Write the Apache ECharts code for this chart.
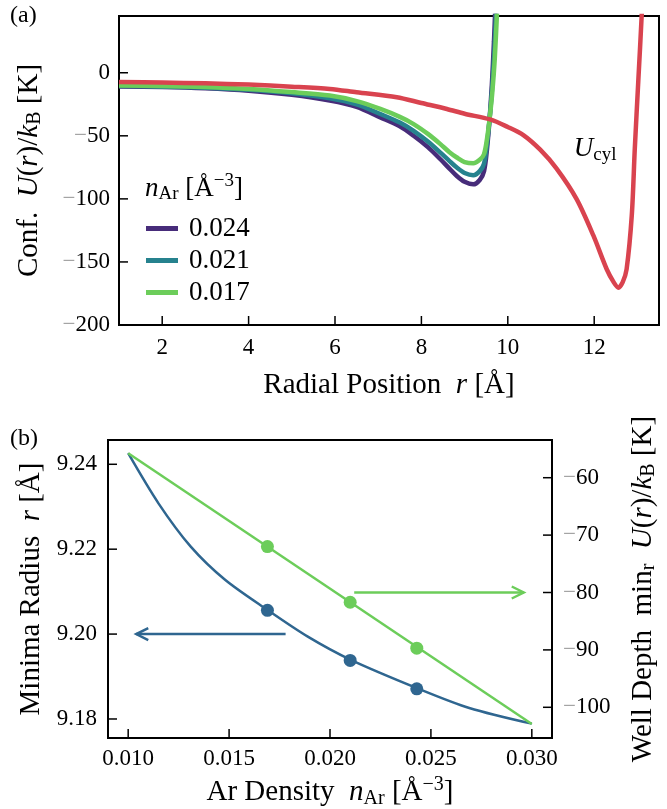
<!DOCTYPE html>
<html><head><meta charset="utf-8">
<script src="https://cdn.jsdelivr.net/npm/echarts@6/dist/echarts.min.js"></script>
<style>html,body{margin:0;padding:0;background:#fff}#c{width:667px;height:809px}</style>
</head><body><div id="c"></div>
<script>
const FONT = 'Liberation Serif';

// ---------- Panel (a): confinement potential ----------
const rTicksA = [2, 4, 6, 8, 10, 12];
const uTicksA = [-200, -150, -100, -50, 0];
const densityLabels = ['0.024', '0.021', '0.017'];

const rWell = [1, 2, 3, 4, 5, 5.88, 6.5, 7.05, 7.5, 7.82, 8.15, 8.44, 8.65, 8.82, 9.0, 9.2, 9.35, 9.45, 9.52, 9.58, 9.63, 9.68, 9.72];
const uPurple = [-10.9, -11.3, -12.3, -14.2, -17.5, -22, -27, -35.4, -42.5, -50, -59, -68.6, -76, -81.9, -86.5, -88.5, -85, -78, -60, -36, -10, 25, 60];
const rTeal = [1, 2, 3, 4, 5, 5.88, 6.5, 7.05, 7.5, 7.82, 8.15, 8.44, 8.65, 8.82, 9.0, 9.2, 9.35, 9.45, 9.52, 9.58, 9.635, 9.69, 9.74];
const uTeal = [-10.5, -11, -11.8, -13.5, -16.3, -20.2, -25, -32.7, -39.5, -46, -54.5, -63.3, -70, -75.2, -79.5, -81.3, -78, -72, -56, -36, -13, 18, 57];
const rGreen = [1, 2, 3, 4, 5, 5.88, 6.5, 7.05, 7.5, 7.82, 8.15, 8.44, 8.65, 8.82, 9.0, 9.2, 9.35, 9.45, 9.52, 9.58, 9.64, 9.70, 9.76];
const uGreen = [-10.1, -10.5, -11.3, -12.8, -15.3, -18.1, -22.5, -28.7, -35, -40.7, -48.5, -56.6, -63, -67.2, -70.8, -71.8, -69, -64.5, -52, -36, -16, 12, 55];
const rCyl = [1, 2, 3, 4, 5, 5.88, 6.5, 7.43, 8.0, 8.59, 9.0, 9.59, 10.0, 10.36, 10.75, 11.13, 11.59, 11.98, 12.29, 12.45, 12.56, 12.66, 12.75, 12.87, 12.94, 13.02, 13.1, 13.15];
const uCyl = [-7.4, -7.8, -8.4, -9.4, -11, -12.8, -15.5, -19.4, -24, -28.7, -32.5, -37, -43, -49.4, -61, -76, -100, -129, -155.8, -166, -170.4, -166, -155.8, -113, -60, -7, 46, 90];

// ---------- Panel (b): minima radius & well depth ----------
const densTicks = [0.010, 0.015, 0.020, 0.025, 0.030];
const radiusTicks = [9.18, 9.20, 9.22, 9.24];
const depthTicks = [-100, -90, -80, -70, -60];

const fitRadiusX = [0.010, 0.0115, 0.0131, 0.0148, 0.0169, 0.0189, 0.0210, 0.0244, 0.0269, 0.030];
const fitRadiusY = [9.2426, 9.2308, 9.2206, 9.2128, 9.2057, 9.1994, 9.1940, 9.1871, 9.1826, 9.1789];
const fitDepthX = [0.010, 0.030];
const fitDepthY = [-55.75, -102.9];
const ptsDensity = [0.0169, 0.0210, 0.0243];
const ptsRadius = [9.2056, 9.1938, 9.1871];
const ptsDepth = [-72.0, -81.7, -89.7];
const arrowRadius = [0.0178, 9.200, 0.0104, 9.200];
const arrowDepth = [0.0212, -80, 0.0296, -80];

// axis extents
const A_X = [1, 13.5], A_Y = [-200, 45];
const B_X = [0.009, 0.031], B_YL = [9.17552, 9.24572], B_YR = [-105.35, -53.43];
const TICK_FRAC_A_X = 9 / 309, TICK_FRAC_A_Y = 9 / 540, TICK_FRAC_B_X = 9 / 298, TICK_FRAC_B_Y = 9 / 444;

const C_PURPLE = '#472c7a', C_TEAL = '#26828e', C_GREEN = '#6ccd5a', C_RED = '#d9434f', C_BLUE = '#2f6690';

function zip(a, b) { return a.map((v, i) => [v, b[i]]); }
function rich(fs) {
  return {
    t: { fontFamily: FONT, fontSize: fs, color: '#000' },
    i: { fontFamily: FONT, fontSize: fs, fontStyle: 'italic', color: '#000' },
    sub: { fontFamily: FONT, fontSize: Math.round(fs * 0.7), padding: [Math.round(fs * 0.4), 0, 0, 0], color: '#000' },
    sup: { fontFamily: FONT, fontSize: Math.round(fs * 0.7), padding: [0, 0, Math.round(fs * 0.5), 0], color: '#000' },
    g: { fontFamily: FONT, fontSize: fs, color: '#a0a0a0' }
  };
}
const TICK_FS = 23, NAME_FS = 29, LEG_FS = 27;
function tickFmt(dec) {
  return v => {
    const s = Math.abs(v).toFixed(dec);
    return v < 0 ? '{g|−}{t|' + s + '}' : '{t|' + s + '}';
  };
}
function axisCommon(ticks, dec, margin) {
  return {
    axisLine: { show: false, onZero: false },
    splitLine: { show: false },
    axisTick: { show: false },
    axisLabel: { show: true, customValues: ticks, margin: margin, formatter: tickFmt(dec), rich: rich(TICK_FS) },
    nameLocation: 'middle',
    nameTextStyle: { fontFamily: FONT, fontSize: NAME_FS, color: '#000', rich: rich(NAME_FS) }
  };
}
function lineSeries(name, xa, ya, data, color, width, z, smooth) {
  return { name, type: 'line', xAxisIndex: xa, yAxisIndex: ya, data, showSymbol: false, symbol: 'none',
    smooth: smooth, lineStyle: { color, width }, itemStyle: { color }, z, silent: true, animation: false };
}
// segments [x0, y0, x1, y1] in data units, optional open arrow head at the end
function segSeries(xa, ya, items, color, width, head) {
  return {
    type: 'custom', xAxisIndex: xa, yAxisIndex: ya, data: items, encode: { x: [0, 2], y: [1, 3] },
    itemStyle: { color }, silent: true, animation: false, z: 5,
    renderItem: (params, api) => {
      const p0 = api.coord([api.value(0), api.value(1)]);
      const p1 = api.coord([api.value(2), api.value(3)]);
      const children = [
        { type: 'line', shape: { x1: p0[0], y1: p0[1], x2: p1[0], y2: p1[1] }, style: { stroke: color, lineWidth: width } }
      ];
      if (head) {
        const ang = Math.atan2(p1[1] - p0[1], p1[0] - p0[0]);
        const L = 12, W = 6;
        const bx = p1[0] - L * Math.cos(ang), by = p1[1] - L * Math.sin(ang);
        const nx = -Math.sin(ang) * W, ny = Math.cos(ang) * W;
        children.push({ type: 'polyline', shape: { points: [[bx + nx, by + ny], [p1[0], p1[1]], [bx - nx, by - ny]] }, style: { stroke: color, fill: null, lineWidth: width } });
      }
      return { type: 'group', children };
    }
  };
}
const dyA = (A_Y[1] - A_Y[0]) * TICK_FRAC_A_X, dxA = (A_X[1] - A_X[0]) * TICK_FRAC_A_Y;
const dyB = (B_YL[1] - B_YL[0]) * TICK_FRAC_B_X, dxB = (B_X[1] - B_X[0]) * TICK_FRAC_B_Y;

const chart = echarts.init(document.getElementById('c'), null, { renderer: 'canvas' });
chart.setOption({
  backgroundColor: '#fff',
  animation: false,
  grid: [
    { left: 119, top: 16, width: 540, height: 309, show: true, borderColor: '#000', borderWidth: 2, backgroundColor: 'transparent', containLabel: false, outerBoundsMode: 'none' },
    { left: 108, top: 440, width: 444, height: 298, show: true, borderColor: '#000', borderWidth: 2, backgroundColor: 'transparent', containLabel: false, outerBoundsMode: 'none' }
  ],
  xAxis: [
    Object.assign(axisCommon(rTicksA, 0, 11), { type: 'value', gridIndex: 0, min: A_X[0], max: A_X[1],
      name: '{t|Radial Position  }{i|r}{t| [Å]}', nameGap: 46 }),
    Object.assign(axisCommon(densTicks, 3, 9), { type: 'value', gridIndex: 1, min: B_X[0], max: B_X[1],
      name: '{t|Ar Density  }{i|n}{sub|Ar}{t| [Å}{sup|−3}{t|]}', nameGap: 37 })
  ],
  yAxis: [
    Object.assign(axisCommon(uTicksA, 0, 9), { type: 'value', gridIndex: 0, min: A_Y[0], max: A_Y[1],
      name: '{t|Conf.  }{i|U}{t|(}{i|r}{t|)/}{i|k}{sub|B}{t| [K]}', nameGap: 74, nameRotate: 90 }),
    Object.assign(axisCommon(radiusTicks, 2, 11), { type: 'value', gridIndex: 1, min: B_YL[0], max: B_YL[1], position: 'left',
      name: '{t|Minima Radius  }{i|r}{t| [Å]}', nameGap: 62, nameRotate: 90 }),
    Object.assign(axisCommon(depthTicks, 0, 11), { type: 'value', gridIndex: 1, min: B_YR[0], max: B_YR[1], position: 'right',
      name: '{t|Well Depth  min}{sub|r}{t|  }{i|U}{t|(}{i|r}{t|)/}{i|k}{sub|B}{t| [K]}', nameGap: 75, nameRotate: 90 })
  ],
  legend: {
    orient: 'vertical', left: 141, top: 210, data: densityLabels, icon: 'rect',
    itemWidth: 32, itemHeight: 5, itemGap: 5, selectedMode: false,
    textStyle: { fontFamily: FONT, fontSize: LEG_FS, color: '#000', padding: [0, 0, 0, 6] }
  },
  graphic: [
    { type: 'text', left: 10, top: 4, style: { text: '(a)', font: '24px "Liberation Serif"', fill: '#000' } },
    { type: 'text', left: 10, top: 427, style: { text: '(b)', font: '24px "Liberation Serif"', fill: '#000' } },
    { type: 'text', left: 145, top: 172, style: { text: '{i|n}{sub|Ar}{t| [Å}{sup|−3}{t|]}', rich: rich(LEG_FS) } }
  ],
  series: [
    lineSeries(densityLabels[0], 0, 0, zip(rWell, uPurple), C_PURPLE, 4.5, 2, 0.3),
    lineSeries(densityLabels[1], 0, 0, zip(rTeal, uTeal), C_TEAL, 4.5, 3, 0.3),
    lineSeries(densityLabels[2], 0, 0, zip(rGreen, uGreen), C_GREEN, 4.5, 4, 0.3),
    Object.assign(lineSeries('Ucyl', 0, 0, zip(rCyl, uCyl), C_RED, 4.5, 5, 0.3), {
      markPoint: { symbol: 'circle', symbolSize: 0, silent: true,
        label: { show: true, position: 'inside', formatter: '{i|U}{sub|cyl}', rich: rich(27) },
        data: [{ coord: [12.02, -60.6] }] }
    }),
    lineSeries('fitR', 1, 1, zip(fitRadiusX, fitRadiusY), C_BLUE, 2.5, 2, 0.3),
    lineSeries('fitD', 1, 2, zip(fitDepthX, fitDepthY), C_GREEN, 2.5, 2, false),
    { type: 'scatter', xAxisIndex: 1, yAxisIndex: 1, data: zip(ptsDensity, ptsRadius), symbolSize: 13, itemStyle: { color: C_BLUE, opacity: 1 }, z: 4, silent: true },
    { type: 'scatter', xAxisIndex: 1, yAxisIndex: 2, data: zip(ptsDensity, ptsDepth), symbolSize: 13, itemStyle: { color: C_GREEN, opacity: 1 }, z: 4, silent: true },
    segSeries(1, 1, [arrowRadius], C_BLUE, 2.5, true),
    segSeries(1, 2, [arrowDepth], C_GREEN, 2.5, true),
    // inward tick marks
    segSeries(0, 0, rTicksA.map(v => [v, A_Y[0], v, A_Y[0] + dyA]), '#000', 1.5, false),
    segSeries(0, 0, uTicksA.map(v => [A_X[0], v, A_X[0] + dxA, v]), '#000', 1.5, false),
    segSeries(1, 1, densTicks.map(v => [v, B_YL[0], v, B_YL[0] + dyB]), '#000', 1.5, false),
    segSeries(1, 1, radiusTicks.map(v => [B_X[0], v, B_X[0] + dxB, v]), '#000', 1.5, false),
    segSeries(1, 2, depthTicks.map(v => [B_X[1], v, B_X[1] - dxB, v]), '#000', 1.5, false)
  ]
});
</script></body></html>
